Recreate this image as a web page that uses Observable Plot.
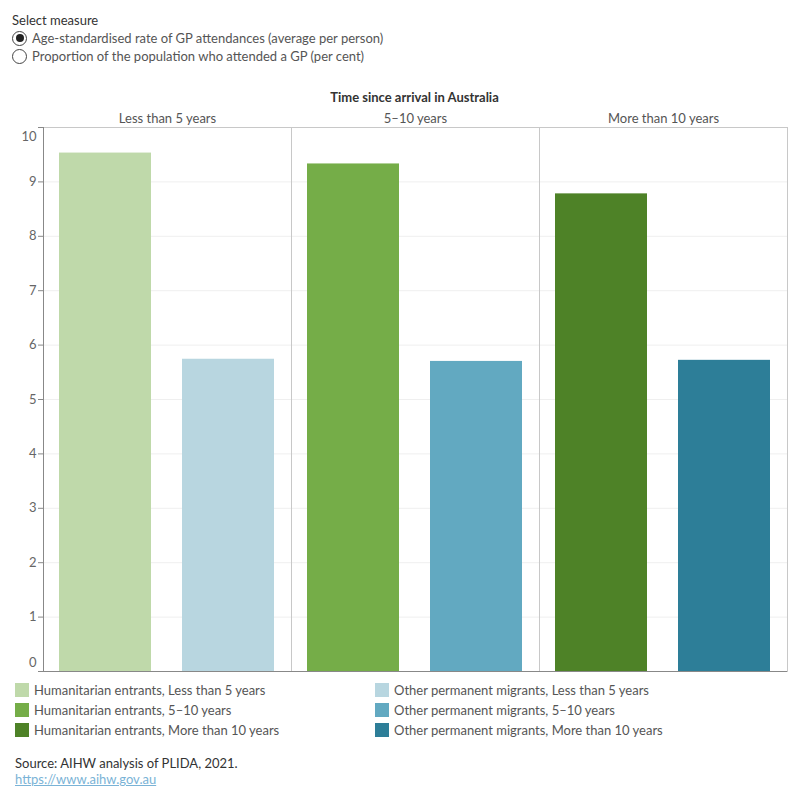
<!DOCTYPE html>
<html>
<head>
<meta charset="utf-8">
<script src="https://cdn.jsdelivr.net/npm/d3@7"></script>
<script src="https://cdn.jsdelivr.net/npm/@observablehq/plot@0.6"></script>
<style>
  html, body { margin: 0; padding: 0; background: #fff; }
  body { width: 800px; height: 800px; position: relative; font-family: Lato, "Noto Sans", sans-serif; color: #333; }
  .measure { position: absolute; left: 12px; top: 11px; font-size: 13px; }
  .measure .heading { height: 18px; line-height: 18px; }
  .radio { display: flex; align-items: center; height: 18px; line-height: 18px; color: #555; }
  .radio .dot { width: 13px; height: 13px; border: 1.3px solid #444; border-radius: 50%; margin-right: 5px; position: relative; box-sizing: content-box; }
  .radio .dot.on::after { content: ""; position: absolute; left: 2.5px; top: 2.5px; width: 8px; height: 8px; border-radius: 50%; background: #222; }
  .chart-title { position: absolute; left: 42px; width: 745px; top: 89px; text-align: center; font-size: 13px; font-weight: bold; color: #333; }
  #chart { position: absolute; left: 0; top: 80px; }
  .legend { position: absolute; left: 15px; top: 683px; font-size: 13px; color: #555; display: grid; grid-template-columns: 360px 360px; row-gap: 6px; }
  .legend .item { display: flex; align-items: center; height: 14px; }
  .legend .sw { width: 14px; height: 14px; margin-right: 5px; flex: none; }
  .source { position: absolute; left: 15px; top: 755px; font-size: 13px; color: #333; line-height: 16px; }
  .source a { color: #7ab3d6; text-decoration: underline; }
</style>
</head>
<body>
<div class="measure">
  <div class="heading">Select measure</div>
  <div class="radio"><span class="dot on"></span>Age-standardised rate of GP attendances (average per person)</div>
  <div class="radio"><span class="dot"></span>Proportion of the population who attended a GP (per cent)</div>
</div>
<div class="chart-title">Time since arrival in Australia</div>
<div id="chart"></div>
<div class="legend" id="legend"></div>
<div class="source">Source: AIHW analysis of PLIDA, 2021.<br><a href="https://www.aihw.gov.au">https://www.aihw.gov.au</a></div>
<script>
// Time since arrival and migrant groups
const periods = ["Less than 5 years", "5–10 years", "More than 10 years"];
const groups = ["Humanitarian entrants", "Other permanent migrants"];

// Age-standardised rate of GP attendances (average per person)
const humanitarian = [9.53, 9.33, 8.78];
const otherPermanent = [5.74, 5.70, 5.72];

// Colours per group, one per time period
const humanitarianColors = ["#bfd9aa", "#75ad48", "#4e8227"];
const otherColors = ["#b8d6e0", "#62a9c1", "#2d7e98"];

const yTicks = [0, 1, 2, 3, 4, 5, 6, 7, 8, 9, 10];

const rows = periods.flatMap((period, i) => [
  {period, group: groups[0], value: humanitarian[i], key: `${groups[0]}, ${period}`},
  {period, group: groups[1], value: otherPermanent[i], key: `${groups[1]}, ${period}`}
]);

const keys = [
  ...periods.map(p => `${groups[0]}, ${p}`),
  ...periods.map(p => `${groups[1]}, ${p}`)
];
const colors = [...humanitarianColors, ...otherColors];

// Tick labels: the end labels are nudged inside the axis range
const labelStyle = {tickSize: 0, tickPadding: 7, fill: "#666", fontSize: 13, label: null, tickFormat: "d", facetAnchor: "left"};
const innerTicks = yTicks.slice(1, -1);
const firstTick = yTicks.slice(0, 1);
const lastTick = yTicks.slice(-1);

const chart = Plot.plot({
  width: 800,
  height: 595,
  marginTop: 47,
  marginLeft: 42,
  marginRight: 13,
  marginBottom: 4,
  style: {fontFamily: "Lato, 'Noto Sans', sans-serif", fontSize: "13px", color: "#555", background: "transparent"},
  fx: {domain: periods, padding: 0, axis: "top", label: null, tickSize: 0, tickPadding: 5},
  x: {domain: groups, axis: null, paddingInner: 0.25, paddingOuter: 0.13},
  y: {domain: [0, 10], axis: null},
  color: {domain: keys, range: colors},
  marks: [
    Plot.gridY(yTicks, {stroke: "#efefef", strokeOpacity: 1}),
    Plot.frame({stroke: "#c8c8c8"}),
    Plot.barY(rows, {fx: "period", x: "group", y: "value", fill: "key"}),
    Plot.ruleY([0], {stroke: "#888"}),
    Plot.frame({anchor: "left", stroke: "#888", facetAnchor: "left"}),
    Plot.axisY(yTicks, {tickSize: 5, stroke: "#888", tickFormat: () => "", label: null, facetAnchor: "left"}),
    Plot.axisY(innerTicks, labelStyle),
    Plot.axisY(firstTick, {...labelStyle, dy: -9}),
    Plot.axisY(lastTick, {...labelStyle, dy: 9})
  ]
});
document.getElementById("chart").appendChild(chart);

// Legend: humanitarian entrants in the left column, other permanent migrants in the right
const legend = document.getElementById("legend");
periods.forEach((p, i) => {
  [[0, humanitarianColors[i]], [1, otherColors[i]]].forEach(([g, c]) => {
    const item = document.createElement("div");
    item.className = "item";
    const sw = document.createElement("span");
    sw.className = "sw";
    sw.style.background = c;
    item.appendChild(sw);
    item.appendChild(document.createTextNode(`${groups[g]}, ${p}`));
    legend.appendChild(item);
  });
});
</script>
</body>
</html>
